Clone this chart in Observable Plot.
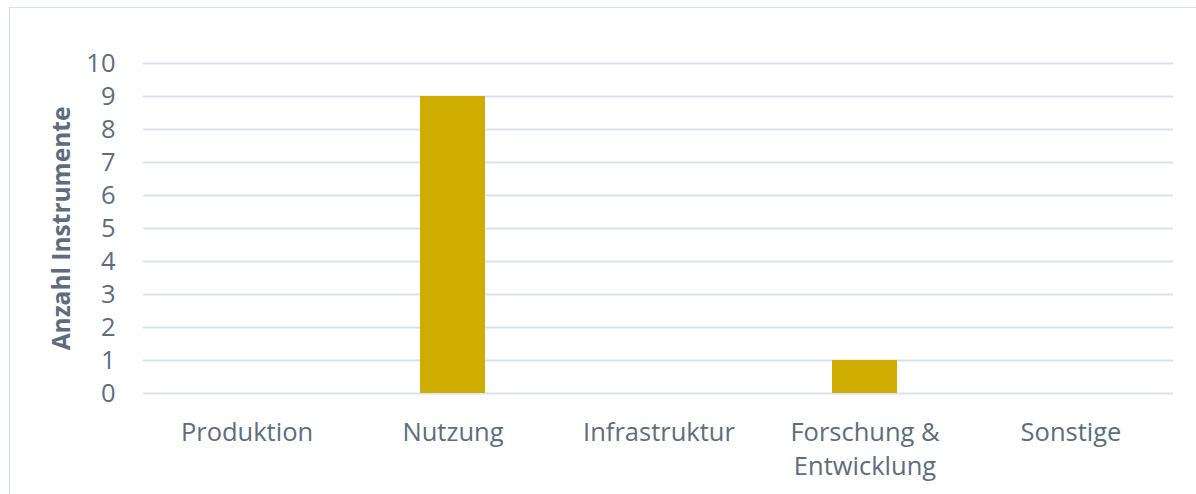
<!DOCTYPE html>
<html><head><meta charset="utf-8">
<script src="https://cdn.jsdelivr.net/npm/d3@7"></script>
<script src="https://cdn.jsdelivr.net/npm/@observablehq/plot@0.6"></script>
<style>
body{margin:0;background:#fff;overflow:hidden}
#frame{position:absolute;left:9px;top:7px;width:1190px;height:520px;border:1.5px solid #d5e0ec;box-sizing:border-box}
#chart{position:absolute;left:0;top:0}
</style></head>
<body><div id="frame"></div><div id="chart"></div>
<script>
const categories = ["Produktion", "Nutzung", "Infrastruktur", "Forschung & Entwicklung", "Sonstige"];
const tickLabels = ["Produktion", "Nutzung", "Infrastruktur", "Forschung &\nEntwicklung", "Sonstige"];
const values = [0, 9, 0, 1, 0];
const yTicks = [0, 1, 2, 3, 4, 5, 6, 7, 8, 9, 10];
const yLabel = "Anzahl Instrumente";

const data = categories.map((c, i) => ({cat: c, value: values[i]}));
const textColor = "#5d6d7e";
const chart = Plot.plot({
  width: 1196, height: 494,
  marginLeft: 143, marginRight: 23, marginTop: 63, marginBottom: 101,
  style: {fontFamily: "'Open Sans', sans-serif", background: "transparent", color: textColor},
  x: {domain: categories, paddingInner: 0.6845, paddingOuter: 0.342},
  y: {domain: [0, 10]},
  marks: [
    Plot.ruleY(yTicks, {stroke: "#d9e3ee", strokeWidth: 2}),
    Plot.barY(data, {x: "cat", y: "value", fill: "#cfad00"}),
    Plot.axisY(yTicks, {tickSize: 0, tickPadding: 28, fontSize: 25.5, label: null, fill: textColor}),
    Plot.axisX({tickSize: 0, tickPadding: 23, fontSize: 25.5, label: null, fill: textColor, lineHeight: 1.35,
      tickFormat: d => tickLabels[categories.indexOf(d)]}),
    Plot.text([yLabel], {frameAnchor: "left", textAnchor: "middle", dx: -81, rotate: -90, fontSize: 24.5, fontWeight: "bold", fill: textColor})
  ]
});
document.getElementById("chart").appendChild(chart);
</script></body></html>
